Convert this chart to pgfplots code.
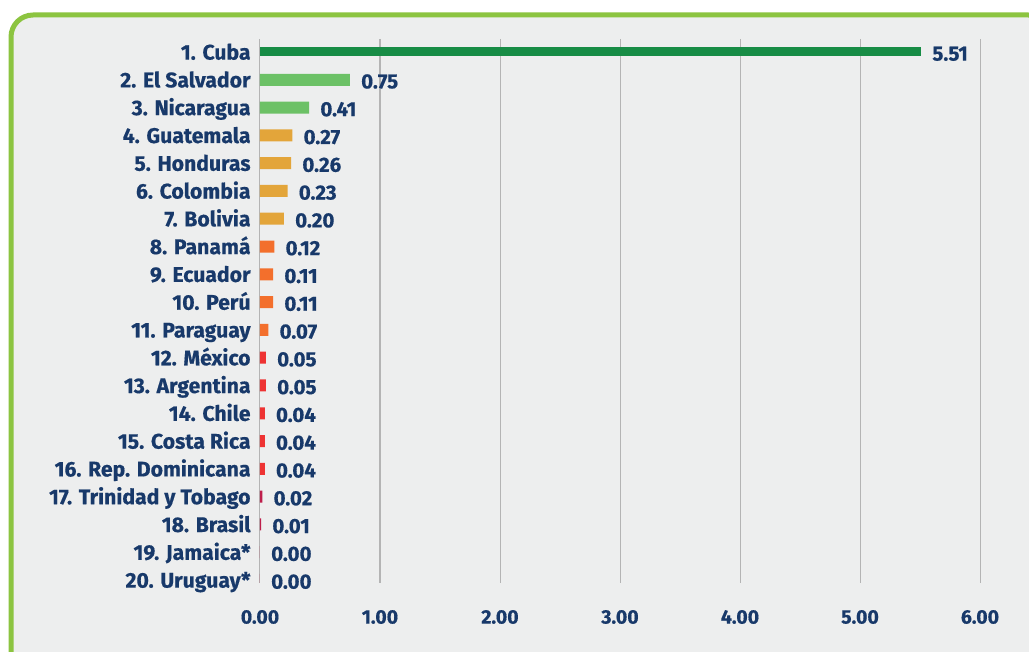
\documentclass[border=0pt]{standalone}
\usepackage{fontspec}
\setmainfont{Fira Sans}[BoldFeatures={FakeBold=0.5}]
\usepackage{pgfplots}
\pgfplotsset{compat=1.18}
\definecolor{panel}{HTML}{EDEEEE}
\definecolor{frame}{HTML}{8CC440}
\definecolor{navy}{HTML}{18396A}
\definecolor{gridc}{HTML}{B4B4B4}
\definecolor{cdkgreen}{HTML}{178C45}
\definecolor{cltgreen}{HTML}{6CC166}
\definecolor{cgold}{HTML}{E3A53A}
\definecolor{corange}{HTML}{F36F2C}
\definecolor{cred}{HTML}{EE3333}
\definecolor{ccrimson}{HTML}{BE1E4B}
\begin{document}
\begin{tikzpicture}[x=1pt,y=1pt]
\useasboundingbox (0,0) rectangle (1029,652);
\clip (0,0) rectangle (1029,652);
\fill[white] (0,0) rectangle (1029,652);
\draw[line width=5pt, frame, fill=panel, rounded corners=22pt] (11,-30) rectangle (1050,637);
\begin{axis}[
  at={(260pt,69pt)}, anchor=south west,
  scale only axis, width=720pt, height=544pt,
  xmin=0, xmax=6, ymin=-0.468, ymax=19.108,
  y dir=reverse,
  xbar, bar width=12pt, bar shift=0pt,
  axis line style={draw=none}, tick style={draw=none},
  xmajorgrids, grid style={gridc, line width=1pt},
  xtick={0,1,...,6},
  xticklabel style={anchor=center, yshift=-34pt, inner sep=0pt,
    font=\bfseries\fontsize{19.5}{22}\selectfont, text=navy,
    /pgf/number format/.cd, fixed, zerofill, precision=2, assume math mode=true},
  ytick={0,...,19},
  yticklabels={1. Cuba, 2. El Salvador, 3. Nicaragua, 4. Guatemala, 5. Honduras,
    6. Colombia, 7. Bolivia, 8. Panamá, 9. Ecuador, 10. Perú, 11. Paraguay,
    12. México, 13. Argentina, 14. Chile, 15. Costa Rica, 16. Rep. Dominicana,
    17. Trinidad y Tobago, 18. Brasil, 19. Jamaica*, 20. Uruguay*},
  yticklabel style={anchor=base east, inner sep=0pt, xshift=-5pt, yshift=-7.6pt,
    font=\bfseries\fontsize{21.2}{24}\selectfont, text=navy},
  nodes near coords,
  every node near coord/.append style={anchor=base west, inner sep=0pt, xshift=11pt, yshift=-8.6pt,
    font=\bfseries\fontsize{20.5}{23}\selectfont, text=navy,
    /pgf/number format/.cd, fixed, zerofill, precision=2, assume math mode=true},
]
\addplot[draw=none, fill=cdkgreen, bar width=9pt] coordinates {(5.51,0)};
\addplot[draw=none, fill=cltgreen] coordinates {(0.75,1) (0.41,2)};
\addplot[draw=none, fill=cgold] coordinates {(0.27,3) (0.26,4) (0.23,5) (0.20,6)};
\addplot[draw=none, fill=corange] coordinates {(0.12,7) (0.11,8) (0.11,9) (0.07,10)};
\addplot[draw=none, fill=cred] coordinates {(0.05,11) (0.05,12) (0.04,13) (0.04,14) (0.04,15)};
\addplot[draw=none, fill=ccrimson] coordinates {(0.02,16) (0.01,17) (0.00,18) (0.00,19)};
\end{axis}
\end{tikzpicture}
\end{document}
